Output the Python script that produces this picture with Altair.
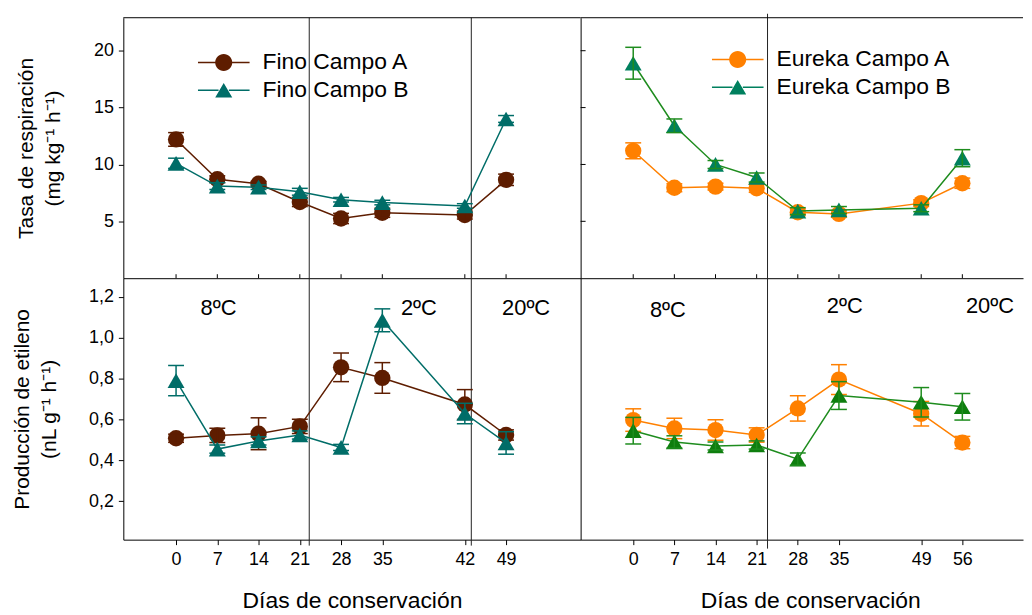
import altair as alt
import pandas as pd

FONT = "Liberation Sans"

# ---------------- data ----------------
dias = [0, 7, 14, 21, 28, 35, 49, 56]          # positions on the axis
etiquetas_fino = ["0", "7", "14", "21", "28", "35", "42", "49"]
etiquetas_eureka = ["0", "7", "14", "21", "28", "35", "49", "56"]

series_fino = ["Fino Campo A", "Fino Campo B"]
series_eureka = ["Eureka Campo A", "Eureka Campo B"]

# respiration rate (mg kg-1 h-1)
resp_fino_a = [12.2, 8.7, 8.3, 6.7, 5.25, 5.75, 5.55, 8.65]
resp_fino_a_err = [0.6, 0.3, 0.2, 0.4, 0.45, 0.4, 0.35, 0.5]
resp_fino_b = [10.1, 8.1, 8.0, 7.6, 6.9, 6.65, 6.35, 14.0]
resp_fino_b_err = [0.45, 0.3, 0.2, 0.3, 0.2, 0.2, 0.2, 0.3]

resp_eureka_a = [11.2, 7.95, 8.05, 7.9, 5.8, 5.65, 6.6, 8.35]
resp_eureka_a_err = [0.7, 0.35, 0.3, 0.35, 0.3, 0.3, 0.3, 0.45]
resp_eureka_b = [18.9, 13.4, 10.0, 8.85, 5.9, 6.0, 6.15, 10.55]
resp_eureka_b_err = [1.4, 0.6, 0.35, 0.4, 0.3, 0.3, 0.3, 0.75]

# ethylene production (nL g-1 h-1)
eti_fino_a = [0.508, 0.522, 0.53, 0.566, 0.855, 0.803, 0.673, 0.524]
eti_fino_a_err = [0.02, 0.035, 0.078, 0.035, 0.07, 0.075, 0.073, 0.025]
eti_fino_b = [0.79, 0.455, 0.495, 0.524, 0.463, 1.085, 0.629, 0.485]
eti_fino_b_err = [0.074, 0.02, 0.02, 0.02, 0.015, 0.056, 0.05, 0.055]

eti_eureka_a = [0.597, 0.556, 0.548, 0.524, 0.654, 0.795, 0.628, 0.487]
eti_eureka_a_err = [0.055, 0.05, 0.05, 0.035, 0.062, 0.073, 0.06, 0.03]
eti_eureka_b = [0.545, 0.49, 0.47, 0.475, 0.406, 0.717, 0.684, 0.662]
eti_eureka_b_err = [0.065, 0.03, 0.02, 0.02, 0.03, 0.068, 0.072, 0.065]

# colours
col_fino = ["#5E1D00", "#006D68"]
col_eureka_lineas = ["#FF8000", "#1E8C1E"]
col_eureka_marc_sup = ["#FF8000", "#00805E"]
col_eureka_marc_inf = ["#FF8000", "#0E7E0E"]

# temperature annotations
temperaturas = ["8ºC", "2ºC", "20ºC"]
temp_x_fino = [7.2, 41.2, 59.4]
temp_y_fino = [1.147, 1.145, 1.145]
temp_x_eureka = [5.9, 36.0, 60.7]
temp_y_eureka = [1.135, 1.155, 1.155]

# storage-temperature changes (axis positions)
cambios_fino = [22.6, 50.1]
cambios_eureka = [22.85]

ticks_resp = [5, 10, 15, 20]
ticks_eti = [0.2, 0.4, 0.6, 0.8, 1.0, 1.2]

# ---------------- styling ----------------
W_IZQ, W_DER = 460, 445
H_SUP, H_INF = 262, 263
XDOM_IZQ = [-8.95, 68.65]
XDOM_DER = [-8.95, -8.95 + W_DER / 5.912]
YDOM_SUP = [0, 22.9]
YDOM_INF = [0.012, 1.291]

PATH_CIRC = ("M-1,-0.03L-0.31,-0.03L-0.31,0.03L-1,0.03Z "
             "M0.31,-0.03L1,-0.03L1,0.03L0.31,0.03Z "
             "M0.33,0A0.33,0.33 0 1,1 -0.33,0A0.33,0.33 0 1,1 0.33,0Z")
PATH_TRI = ("M-1,-0.03L-0.2,-0.03L-0.2,0.03L-1,0.03Z "
            "M0.2,-0.03L1,-0.03L1,0.03L0.2,0.03Z "
            "M0,-0.28L0.33,0.28L-0.33,0.28Z")


def label_expr(etqs):
    expr = "datum.label"
    for d, e in reversed(list(zip(dias, etqs))):
        expr = f"datum.value == {d} ? '{e}' : ({expr})"
    return expr


def xaxis_top():
    return alt.Axis(labels=False, ticks=False, title=None, grid=False, domain=True)


def xaxis_bottom(etqs, title_x):
    return alt.Axis(values=dias, labelExpr=label_expr(etqs), tickSize=5, labelPadding=6,
                    labelFontSize=18, title="Días de conservación", titleFontSize=23,
                    titleFontWeight="normal", titleX=title_x, titleY=68,
                    titleBaseline="alphabetic", titleAlign="center", grid=False)


def yaxis_none():
    return alt.Axis(labels=False, ticks=False, title=None, grid=False, domain=True)


def panel(nombres, valores, errores, col_lin, col_mar, w, h, xdom, ydom, xaxis, yaxis,
          cambios, ext_sup, ext_inf, leyenda=None, ticks_abajo=False, ticks_izq=None,
          textos=None, borde_sup=False):
    xs = alt.Scale(domain=xdom, nice=False, zero=False)
    ys = alt.Scale(domain=ydom, nice=False, zero=False)

    def X(c):
        return alt.X(f"{c}:Q", scale=xs, axis=xaxis)

    def Y(c):
        return alt.Y(f"{c}:Q", scale=ys, axis=yaxis)

    capas = []
    # temperature change lines
    dfc = pd.DataFrame({"dia": cambios})
    capas.append(alt.Chart(dfc).mark_rule(color="#222222", strokeWidth=1).encode(
        x=X("dia"), y=alt.value(-ext_sup), y2=alt.value(h + ext_inf)))

    formas = ["circle", "triangle-up"]
    tamanos = [270, 290]
    for i, nombre in enumerate(nombres):
        v, e = valores[i], errores[i]
        lo = [a - b for a, b in zip(v, e)]
        hi = [a + b for a, b in zip(v, e)]
        df = pd.DataFrame({"dia": dias, "valor": v, "lo": lo, "hi": hi})
        dcap = pd.DataFrame({"dia": dias + dias, "cap": lo + hi})
        base = alt.Chart(df)
        capas.append(base.mark_line(color=col_lin[i], strokeWidth=1.5).encode(
            x=X("dia"), y=Y("valor")))
        capas.append(base.mark_point(filled=True, opacity=1, shape=formas[i], size=tamanos[i],
                                     color=col_mar[i]).encode(x=X("dia"), y=Y("valor")))
        capas.append(base.mark_rule(color=col_lin[i], strokeWidth=1.5).encode(
            x=X("dia"), y=Y("lo"), y2="hi"))
        capas.append(alt.Chart(dcap).mark_tick(color=col_lin[i], orient="horizontal", size=16,
                                               thickness=1.5, opacity=1).encode(
            x=X("dia"), y=Y("cap")))

    if ticks_abajo:
        capas.append(alt.Chart(pd.DataFrame({"dia": dias})).mark_rule(color="black").encode(
            x=X("dia"), y=alt.value(h), y2=alt.value(h - 4)))
    if ticks_izq is not None:
        capas.append(alt.Chart(pd.DataFrame({"v": ticks_izq})).mark_rule(color="black").encode(
            y=Y("v"), x=alt.value(0), x2=alt.value(5)))
    if borde_sup:
        capas.append(alt.Chart(pd.DataFrame({"v": [0]})).mark_rule(color="black").encode(
            x=alt.value(0), x2=alt.value(w), y=alt.value(0)))
    if textos is not None:
        t, tx, ty = textos
        dft = pd.DataFrame({"t": t, "x": tx, "y": ty})
        capas.append(alt.Chart(dft).mark_text(font=FONT, fontSize=22, color="black",
                                              align="center", baseline="middle").encode(
            x=X("x"), y=Y("y"), text="t:N"))
    if leyenda is not None:
        lx, ly, col_leg = leyenda
        leg = alt.Legend(orient="none", legendX=lx, legendY=ly, title=None, symbolSize=2704,
                         symbolStrokeWidth=0, symbolOpacity=1, labelFont=FONT, labelFontSize=23,
                         labelColor="black", labelOffset=13, clipHeight=28, rowPadding=0,
                         padding=0, labelLimit=0)
        capas.append(alt.Chart(pd.DataFrame({"serie": nombres})).mark_point(
            filled=True, opacity=1).encode(
            color=alt.Color("serie:N", scale=alt.Scale(domain=nombres, range=col_leg), legend=leg),
            shape=alt.Shape("serie:N", scale=alt.Scale(domain=nombres,
                                                       range=[PATH_CIRC, PATH_TRI]), legend=leg),
        ).transform_filter("false"))

    return alt.layer(*capas).properties(width=w, height=h)


yaxis_tl = alt.Axis(values=ticks_resp, title=["Tasa de respiración", "(mg kg⁻¹ h⁻¹)"],
                    tickSize=5, labelPadding=5, labelFontSize=18, titleFontSize=21,
                    titleFontWeight="normal", titlePadding=30, titleLineHeight=27, grid=False)
yaxis_bl = alt.Axis(values=ticks_eti, title=["Producción de etileno", "(nL g⁻¹ h⁻¹)"],
                    labelExpr="replace(format(datum.value, '.1f'), '.', ',')",
                    tickSize=5, labelPadding=5, labelFontSize=18, titleFontSize=21,
                    titleFontWeight="normal", titlePadding=29, titleLineHeight=27, grid=False)

tl = panel(series_fino, [resp_fino_a, resp_fino_b], [resp_fino_a_err, resp_fino_b_err],
           col_fino, col_fino, W_IZQ, H_SUP, XDOM_IZQ, YDOM_SUP, xaxis_top(), yaxis_tl,
           cambios_fino, 0, 0, leyenda=(75, 31, col_fino), ticks_abajo=True, borde_sup=True)
tr = panel(series_eureka, [resp_eureka_a, resp_eureka_b], [resp_eureka_a_err, resp_eureka_b_err],
           col_eureka_lineas, col_eureka_marc_sup, W_DER, H_SUP, XDOM_DER, YDOM_SUP, xaxis_top(),
           yaxis_none(), cambios_eureka, 4, 0,
           leyenda=(132, 28, col_eureka_marc_sup), ticks_abajo=True, ticks_izq=ticks_resp,
           borde_sup=True)
bl = panel(series_fino, [eti_fino_a, eti_fino_b], [eti_fino_a_err, eti_fino_b_err],
           col_fino, col_fino, W_IZQ, H_INF, XDOM_IZQ, YDOM_INF,
           xaxis_bottom(etiquetas_fino, 230), yaxis_bl, cambios_fino, 0, 6,
           textos=(temperaturas, temp_x_fino, temp_y_fino))
br = panel(series_eureka, [eti_eureka_a, eti_eureka_b], [eti_eureka_a_err, eti_eureka_b_err],
           col_eureka_lineas, col_eureka_marc_inf, W_DER, H_INF, XDOM_DER, YDOM_INF,
           xaxis_bottom(etiquetas_eureka, 231), yaxis_none(), cambios_eureka, 0, 9,
           textos=(temperaturas, temp_x_eureka, temp_y_eureka))

chart = alt.concat(tl, tr, bl, br, columns=2, spacing=0, bounds="flush").resolve_scale(
    color="independent", shape="independent"
).properties(
    padding={"left": 3, "top": 3, "right": 0, "bottom": 0}
).configure_view(stroke=None).configure_axis(
    domainColor="black", tickColor="black", labelColor="black", titleColor="black",
    labelFont=FONT, titleFont=FONT, domainWidth=1, tickWidth=1
)

chart.save("out.html", embed_options={"renderer": "svg", "actions": False})
